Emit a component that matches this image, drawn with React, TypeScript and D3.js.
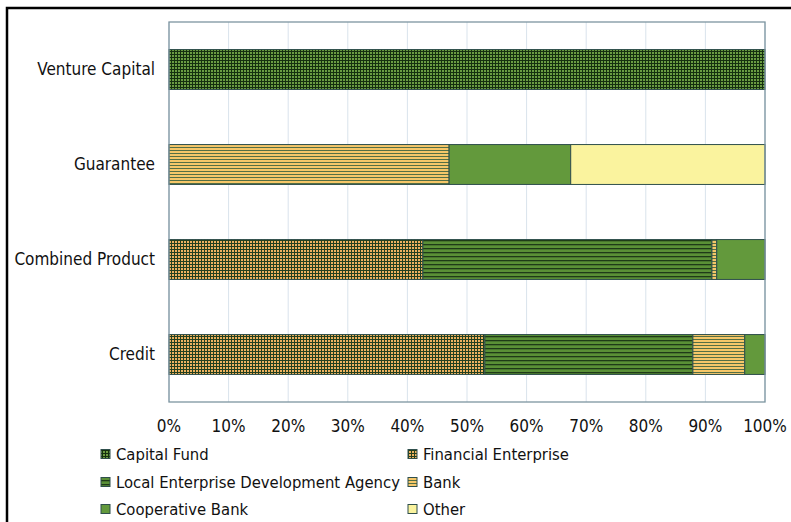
import React from "react";
import * as d3 from "d3";

const categories = ["Venture Capital", "Guarantee", "Combined Product", "Credit"];
const seriesNames = [
  "Capital Fund",
  "Financial Enterprise",
  "Local Enterprise Development Agency",
  "Bank",
  "Cooperative Bank",
  "Other",
];
// values in percent, per category (same order as categories)
const capitalFund = [100, 0, 0, 0];
const financialEnterprise = [0, 0, 42.6, 53.0];
const localAgency = [0, 0, 48.5, 34.9];
const bank = [0, 47.0, 0.8, 8.7];
const cooperativeBank = [0, 20.4, 8.1, 3.4];
const other = [0, 32.6, 0, 0];
const tickValues = [0, 10, 20, 30, 40, 50, 60, 70, 80, 90, 100];

const seriesValues = [capitalFund, financialEnterprise, localAgency, bank, cooperativeBank, other];
const fills = [
  "url(#pCap)",
  "url(#pFin)",
  "url(#pLeda)",
  "url(#pBank)",
  "#63993c",
  "#faf39e",
];

const FONT = "'DejaVu Sans Condensed', 'DejaVu Sans', sans-serif";

export default function App() {
  const W = 791, H = 522;
  const left = 169, right = 765, top = 22, bottom = 402;
  const x = d3.scaleLinear().domain([0, 100]).range([left, right]);
  const y = d3.scaleBand<string>().domain(categories).range([top, bottom]).paddingInner(0.58).paddingOuter(0.29);

  const rows = categories.map((c, i) => {
    const r: any = { cat: c };
    seriesNames.forEach((s, k) => (r[s] = seriesValues[k][i]));
    return r;
  });
  const stacked = d3.stack<any>().keys(seriesNames)(rows);

  const legendCols = [101, 408];
  const legendRows = [454, 482, 509];
  const FS = 17;
  const LFS = 16.5;

  return (
    <svg width={W} height={H} style={{ position: "absolute", left: 0, top: 0, background: "#fff" }} fontFamily={FONT}>
      <defs>
        <pattern id="pCap" width="3" height="3" patternUnits="userSpaceOnUse">
          <rect width="3" height="3" fill="#6a9c42" />
          <rect width="1" height="3" fill="#15300f" />
          <rect width="3" height="1" fill="#15300f" />
        </pattern>
        <pattern id="pFin" width="3" height="3" patternUnits="userSpaceOnUse">
          <rect width="3" height="3" fill="#eeb260" />
          <rect width="1" height="3" fill="#24401f" />
          <rect width="3" height="1" fill="#24401f" />
        </pattern>
        <pattern id="pLeda" width="4" height="4" patternUnits="userSpaceOnUse">
          <rect width="4" height="4" fill="#5a9036" />
          <rect width="4" height="1.3" fill="#1f3a18" />
        </pattern>
        <pattern id="pBank" width="3" height="3" patternUnits="userSpaceOnUse">
          <rect width="3" height="3" fill="#f6c769" />
          <rect width="3" height="1" fill="#566f44" />
        </pattern>
      </defs>
      <rect x={7} y={8} width={900} height={700} fill="none" stroke="#000" strokeWidth={2.5} />

      {tickValues.map((t) => (
        <line key={"g" + t} x1={x(t)} x2={x(t)} y1={top} y2={bottom} stroke="#d9e3ec" strokeWidth={1} />
      ))}

      {stacked.map((s, k) =>
        s.map((d, i) => {
          const w = x(d[1]) - x(d[0]);
          if (w <= 0) return null;
          return (
            <rect
              key={k + "-" + i}
              x={x(d[0])}
              y={y(categories[i])}
              width={w}
              height={y.bandwidth()}
              fill={fills[k]}
              stroke="#2f4f4c"
              strokeWidth={1}
            />
          );
        })
      )}

      <rect x={left} y={top} width={right - left} height={bottom - top} fill="none" stroke="#7d95a0" strokeWidth={1.3} />

      {categories.map((c) => (
        <text key={c} x={155} y={(y(c) as number) + y.bandwidth() / 2} dy="0.35em" textAnchor="end" fontSize={FS} fill="#111">
          {c}
        </text>
      ))}

      {tickValues.map((t) => (
        <text key={"t" + t} x={x(t)} y={426} dy="0.35em" textAnchor="middle" fontSize={FS} fill="#111">
          {t + "%"}
        </text>
      ))}

      {seriesNames.map((s, k) => {
        const cx = legendCols[k % 2];
        const cy = legendRows[Math.floor(k / 2)];
        return (
          <g key={s}>
            <rect x={cx} y={cy - 4.5} width={9} height={9} fill={fills[k]} stroke="#2f4f4c" strokeWidth={1} />
            <text x={cx + 15} y={cy} dy="0.35em" fontSize={LFS} fill="#111">
              {s}
            </text>
          </g>
        );
      })}
    </svg>
  );
}
